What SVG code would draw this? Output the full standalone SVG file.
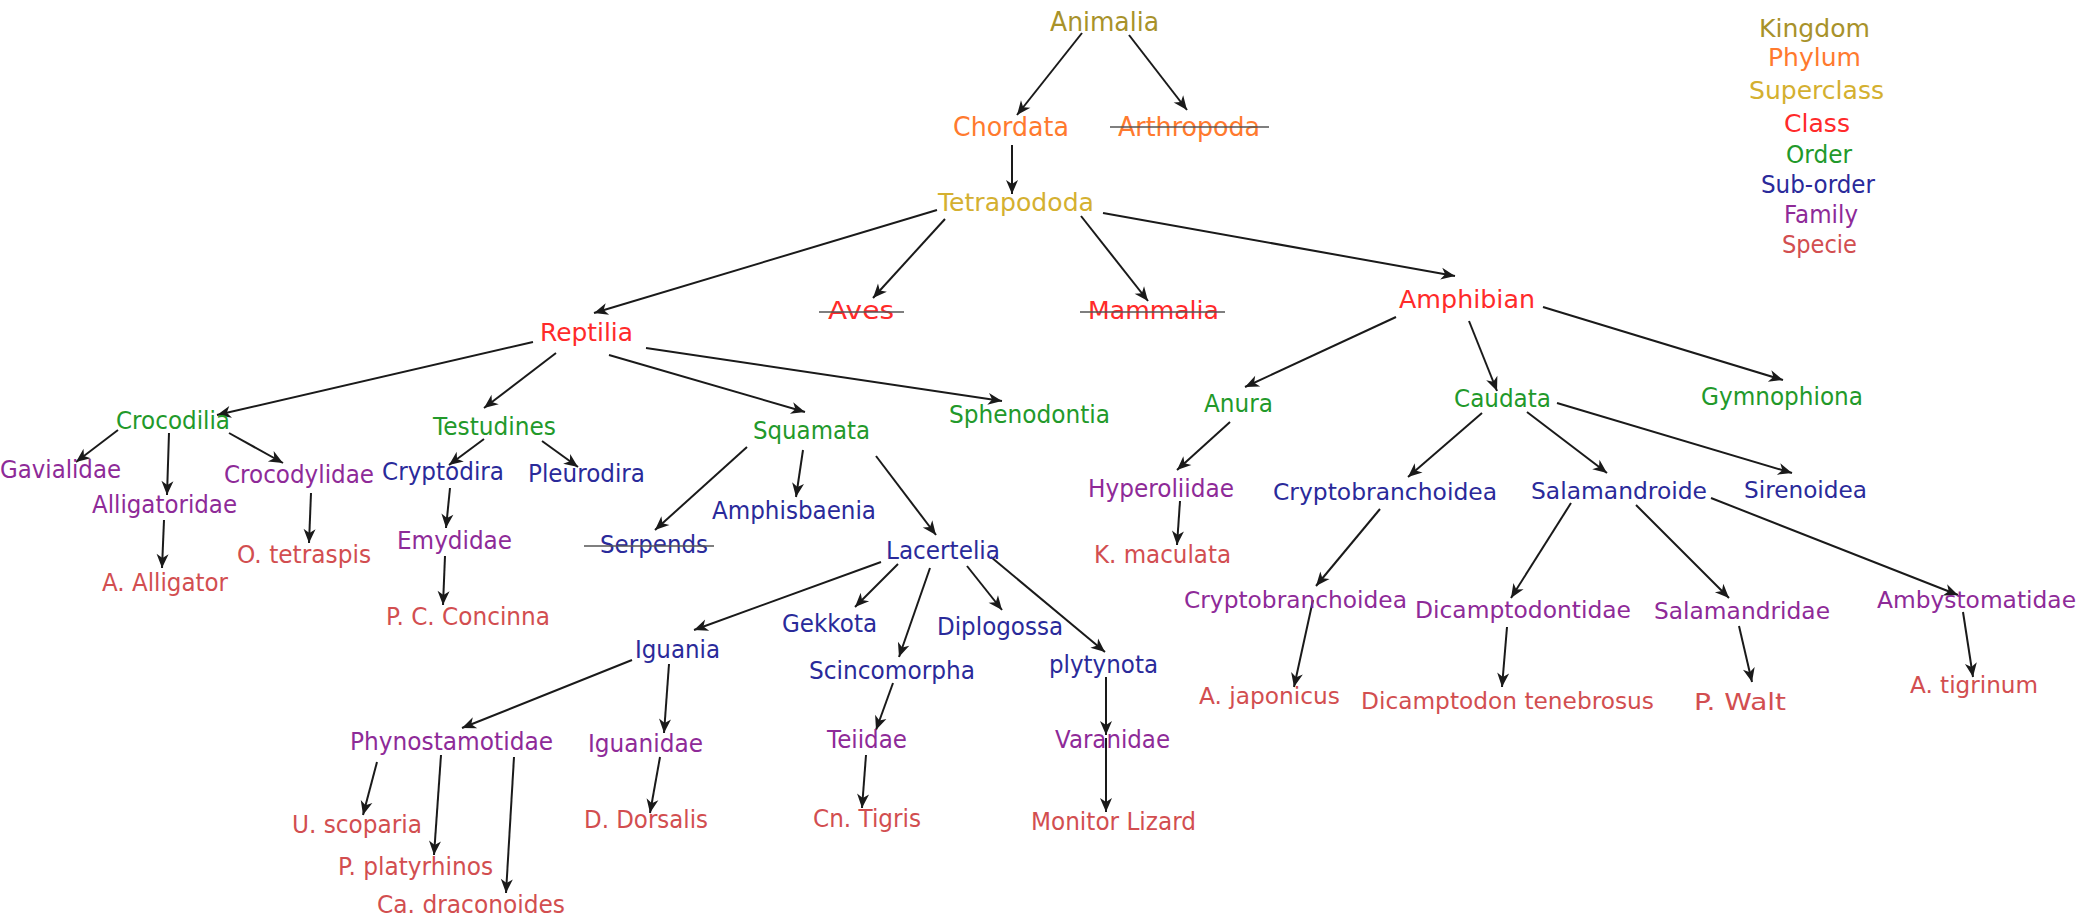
<svg xmlns="http://www.w3.org/2000/svg" width="2091" height="922" viewBox="0 0 2091 922">
<defs>
<marker id="ah" markerUnits="userSpaceOnUse" viewBox="-15 -7 16 14" refX="0" refY="0" markerWidth="16" markerHeight="14" orient="auto">
<path d="M0,0 L-14,-6 L-10,0 L-14,6 Z" fill="#1a1a1a"/>
</marker>
<style>
text{font-family:"DejaVu Sans","Liberation Sans",sans-serif;font-size:24px}
.k{fill:#a8922a}.p{fill:#ff7a2e}.sc{fill:#d4b030}.c{fill:#ff2a2a}.o{fill:#22992a}.so{fill:#2a2a9a}.f{fill:#8e2a98}.s{fill:#d24e50}
.big{font-size:26px}.mid{font-size:25px}.sm{font-size:23px}
.lg{font-size:24px}
#edges line{stroke:#1a1a1a;stroke-width:2;marker-end:url(#ah)}
.strike{stroke:#555;stroke-width:1.5}
</style>
</defs>
<rect width="2091" height="922" fill="#fff"/>
<g id="edges">
<line x1="1082" y1="33" x2="1017" y2="115"/>
<line x1="1129" y1="35" x2="1187" y2="110"/>
<line x1="1012" y1="145" x2="1012" y2="194"/>
<line x1="937" y1="210" x2="594" y2="313"/>
<line x1="945" y1="219" x2="873" y2="298"/>
<line x1="1081" y1="216" x2="1148" y2="301"/>
<line x1="1103" y1="213" x2="1455" y2="276"/>
<line x1="533" y1="342" x2="217" y2="415"/>
<line x1="556" y1="353" x2="484" y2="408"/>
<line x1="609" y1="355" x2="805" y2="412"/>
<line x1="646" y1="348" x2="1002" y2="401"/>
<line x1="118" y1="430" x2="76" y2="462"/>
<line x1="169" y1="433" x2="167" y2="495"/>
<line x1="229" y1="433" x2="283" y2="463"/>
<line x1="164" y1="520" x2="162" y2="568"/>
<line x1="311" y1="493" x2="309" y2="543"/>
<line x1="484" y1="439" x2="449" y2="465"/>
<line x1="542" y1="441" x2="578" y2="467"/>
<line x1="450" y1="488" x2="446" y2="528"/>
<line x1="445" y1="556" x2="443" y2="605"/>
<line x1="747" y1="447" x2="655" y2="530"/>
<line x1="803" y1="450" x2="796" y2="497"/>
<line x1="876" y1="456" x2="936" y2="535"/>
<line x1="881" y1="562" x2="694" y2="630"/>
<line x1="898" y1="564" x2="855" y2="607"/>
<line x1="930" y1="568" x2="899" y2="657"/>
<line x1="967" y1="566" x2="1002" y2="610"/>
<line x1="991" y1="557" x2="1105" y2="652"/>
<line x1="632" y1="660" x2="462" y2="728"/>
<line x1="669" y1="664" x2="664" y2="733"/>
<line x1="377" y1="762" x2="363" y2="815"/>
<line x1="441" y1="755" x2="434" y2="855"/>
<line x1="514" y1="757" x2="506" y2="893"/>
<line x1="660" y1="757" x2="650" y2="813"/>
<line x1="893" y1="683" x2="876" y2="730"/>
<line x1="866" y1="755" x2="862" y2="808"/>
<line x1="1106" y1="677" x2="1106" y2="735"/>
<line x1="1106" y1="738" x2="1106" y2="812"/>
<line x1="1396" y1="317" x2="1245" y2="387"/>
<line x1="1469" y1="321" x2="1497" y2="391"/>
<line x1="1543" y1="307" x2="1783" y2="380"/>
<line x1="1230" y1="422" x2="1177" y2="470"/>
<line x1="1180" y1="501" x2="1177" y2="545"/>
<line x1="1482" y1="413" x2="1408" y2="477"/>
<line x1="1527" y1="412" x2="1607" y2="473"/>
<line x1="1557" y1="403" x2="1792" y2="473"/>
<line x1="1380" y1="509" x2="1316" y2="586"/>
<line x1="1313" y1="600" x2="1294" y2="687"/>
<line x1="1571" y1="503" x2="1511" y2="598"/>
<line x1="1507" y1="627" x2="1502" y2="687"/>
<line x1="1636" y1="505" x2="1729" y2="598"/>
<line x1="1739" y1="626" x2="1752" y2="682"/>
<line x1="1711" y1="498" x2="1958" y2="595"/>
<line x1="1963" y1="612" x2="1973" y2="677"/>
</g>
<g id="legend">
<text class="k lg" x="1759" y="37" textLength="111" lengthAdjust="spacingAndGlyphs">Kingdom</text>
<text class="p lg" x="1768" y="66" textLength="93" lengthAdjust="spacingAndGlyphs">Phylum</text>
<text class="sc lg" x="1749" y="99" textLength="135" lengthAdjust="spacingAndGlyphs">Superclass</text>
<text class="c lg" x="1784" y="132" textLength="66" lengthAdjust="spacingAndGlyphs">Class</text>
<text class="o lg" x="1786" y="163" textLength="66" lengthAdjust="spacingAndGlyphs">Order</text>
<text class="so lg" x="1761" y="193" textLength="114" lengthAdjust="spacingAndGlyphs">Sub-order</text>
<text class="f lg" x="1784" y="223" textLength="74" lengthAdjust="spacingAndGlyphs">Family</text>
<text class="s lg" x="1782" y="253" textLength="75" lengthAdjust="spacingAndGlyphs">Specie</text>
</g>
<g id="n-animalia"><text class="k big" x="1050" y="31" textLength="109" lengthAdjust="spacingAndGlyphs">Animalia</text></g>
<g id="n-chordata"><text class="p big" x="953" y="136" textLength="116" lengthAdjust="spacingAndGlyphs">Chordata</text></g>
<g id="n-arthropoda"><text class="p big" x="1118" y="136" textLength="142" lengthAdjust="spacingAndGlyphs">Arthropoda</text><line class="strike" x1="1110" y1="127" x2="1269" y2="127"/></g>
<g id="n-tetrapododa"><text class="sc mid" x="938" y="211" textLength="156" lengthAdjust="spacingAndGlyphs">Tetrapododa</text></g>
<g id="n-aves"><text class="c mid" x="828" y="319" textLength="66" lengthAdjust="spacingAndGlyphs">Aves</text><line class="strike" x1="819" y1="312" x2="904" y2="312"/></g>
<g id="n-mammalia"><text class="c mid" x="1088" y="319" textLength="131" lengthAdjust="spacingAndGlyphs">Mammalia</text><line class="strike" x1="1080" y1="312" x2="1225" y2="312"/></g>
<g id="n-amphibian"><text class="c mid" x="1399" y="308" textLength="136" lengthAdjust="spacingAndGlyphs">Amphibian</text></g>
<g id="n-reptilia"><text class="c mid" x="540" y="341" textLength="93" lengthAdjust="spacingAndGlyphs">Reptilia</text></g>
<g id="n-crocodilia"><text class="o" x="116" y="429" textLength="114" lengthAdjust="spacingAndGlyphs">Crocodilia</text></g>
<g id="n-testudines"><text class="o" x="433" y="435" textLength="123" lengthAdjust="spacingAndGlyphs">Testudines</text></g>
<g id="n-squamata"><text class="o" x="753" y="439" textLength="117" lengthAdjust="spacingAndGlyphs">Squamata</text></g>
<g id="n-sphenodontia"><text class="o" x="949" y="423" textLength="161" lengthAdjust="spacingAndGlyphs">Sphenodontia</text></g>
<g id="n-anura"><text class="o" x="1204" y="412" textLength="69" lengthAdjust="spacingAndGlyphs">Anura</text></g>
<g id="n-caudata"><text class="o" x="1454" y="407" textLength="97" lengthAdjust="spacingAndGlyphs">Caudata</text></g>
<g id="n-gymnophiona"><text class="o" x="1701" y="405" textLength="162" lengthAdjust="spacingAndGlyphs">Gymnophiona</text></g>
<g id="n-gavialidae"><text class="f" x="0" y="478" textLength="121" lengthAdjust="spacingAndGlyphs">Gavialidae</text></g>
<g id="n-alligatoridae"><text class="f" x="92" y="513" textLength="145" lengthAdjust="spacingAndGlyphs">Alligatoridae</text></g>
<g id="n-crocodylidae"><text class="f" x="224" y="483" textLength="150" lengthAdjust="spacingAndGlyphs">Crocodylidae</text></g>
<g id="n-a-alligator"><text class="s" x="102" y="591" textLength="126" lengthAdjust="spacingAndGlyphs">A. Alligator</text></g>
<g id="n-o-tetraspis"><text class="s" x="237" y="563" textLength="134" lengthAdjust="spacingAndGlyphs">O. tetraspis</text></g>
<g id="n-cryptodira"><text class="so" x="382" y="480" textLength="122" lengthAdjust="spacingAndGlyphs">Cryptodira</text></g>
<g id="n-pleurodira"><text class="so" x="528" y="482" textLength="117" lengthAdjust="spacingAndGlyphs">Pleurodira</text></g>
<g id="n-emydidae"><text class="f" x="397" y="549" textLength="115" lengthAdjust="spacingAndGlyphs">Emydidae</text></g>
<g id="n-pc-concinna"><text class="s" x="386" y="625" textLength="164" lengthAdjust="spacingAndGlyphs">P. C. Concinna</text></g>
<g id="n-serpends"><text class="so" x="600" y="553" textLength="108" lengthAdjust="spacingAndGlyphs">Serpends</text><line class="strike" x1="584" y1="546" x2="714" y2="546"/></g>
<g id="n-amphisbaenia"><text class="so" x="712" y="519" textLength="164" lengthAdjust="spacingAndGlyphs">Amphisbaenia</text></g>
<g id="n-lacertelia"><text class="so" x="886" y="559" textLength="114" lengthAdjust="spacingAndGlyphs">Lacertelia</text></g>
<g id="n-gekkota"><text class="so" x="782" y="632" textLength="95" lengthAdjust="spacingAndGlyphs">Gekkota</text></g>
<g id="n-diplogossa"><text class="so" x="937" y="635" textLength="126" lengthAdjust="spacingAndGlyphs">Diplogossa</text></g>
<g id="n-iguania"><text class="so" x="635" y="658" textLength="85" lengthAdjust="spacingAndGlyphs">Iguania</text></g>
<g id="n-scincomorpha"><text class="so" x="809" y="679" textLength="166" lengthAdjust="spacingAndGlyphs">Scincomorpha</text></g>
<g id="n-plytynota"><text class="so" x="1049" y="673" textLength="109" lengthAdjust="spacingAndGlyphs">plytynota</text></g>
<g id="n-iguanidae"><text class="f" x="588" y="752" textLength="115" lengthAdjust="spacingAndGlyphs">Iguanidae</text></g>
<g id="n-d-dorsalis"><text class="s" x="584" y="828" textLength="124" lengthAdjust="spacingAndGlyphs">D. Dorsalis</text></g>
<g id="n-teiidae"><text class="f" x="827" y="748" textLength="80" lengthAdjust="spacingAndGlyphs">Teiidae</text></g>
<g id="n-cn-tigris"><text class="s" x="813" y="827" textLength="108" lengthAdjust="spacingAndGlyphs">Cn. Tigris</text></g>
<g id="n-varanidae"><text class="f" x="1055" y="748" textLength="115" lengthAdjust="spacingAndGlyphs">Varanidae</text></g>
<g id="n-monitor-lizard"><text class="s" x="1031" y="830" textLength="165" lengthAdjust="spacingAndGlyphs">Monitor Lizard</text></g>
<g id="n-phynostamotidae"><text class="f" x="350" y="750" textLength="203" lengthAdjust="spacingAndGlyphs">Phynostamotidae</text></g>
<g id="n-u-scoparia"><text class="s" x="292" y="833" textLength="130" lengthAdjust="spacingAndGlyphs">U. scoparia</text></g>
<g id="n-p-platyrhinos"><text class="s" x="338" y="875" textLength="155" lengthAdjust="spacingAndGlyphs">P. platyrhinos</text></g>
<g id="n-ca-draconoides"><text class="s" x="377" y="913" textLength="188" lengthAdjust="spacingAndGlyphs">Ca. draconoides</text></g>
<g id="n-hyperoliidae"><text class="f" x="1088" y="497" textLength="146" lengthAdjust="spacingAndGlyphs">Hyperoliidae</text></g>
<g id="n-k-maculata"><text class="s" x="1094" y="563" textLength="137" lengthAdjust="spacingAndGlyphs">K. maculata</text></g>
<g id="n-cryptobranchoidea-so"><text class="so sm" x="1273" y="500" textLength="224" lengthAdjust="spacingAndGlyphs">Cryptobranchoidea</text></g>
<g id="n-salamandroide"><text class="so sm" x="1531" y="499" textLength="176" lengthAdjust="spacingAndGlyphs">Salamandroide</text></g>
<g id="n-sirenoidea"><text class="so sm" x="1744" y="498" textLength="123" lengthAdjust="spacingAndGlyphs">Sirenoidea</text></g>
<g id="n-cryptobranchoidea-f"><text class="f sm" x="1184" y="608" textLength="223" lengthAdjust="spacingAndGlyphs">Cryptobranchoidea</text></g>
<g id="n-dicamptodontidae"><text class="f sm" x="1415" y="618" textLength="216" lengthAdjust="spacingAndGlyphs">Dicamptodontidae</text></g>
<g id="n-salamandridae"><text class="f sm" x="1654" y="619" textLength="176" lengthAdjust="spacingAndGlyphs">Salamandridae</text></g>
<g id="n-ambystomatidae"><text class="f sm" x="1877" y="608" textLength="199" lengthAdjust="spacingAndGlyphs">Ambystomatidae</text></g>
<g id="n-a-japonicus"><text class="s sm" x="1199" y="704" textLength="141" lengthAdjust="spacingAndGlyphs">A. japonicus</text></g>
<g id="n-d-tenebrosus"><text class="s sm" x="1361" y="709" textLength="293" lengthAdjust="spacingAndGlyphs">Dicamptodon tenebrosus</text></g>
<g id="n-p-walt"><text class="s sm" x="1694" y="710" textLength="92" lengthAdjust="spacingAndGlyphs">P.  Walt</text></g>
<g id="n-a-tigrinum"><text class="s sm" x="1910" y="693" textLength="128" lengthAdjust="spacingAndGlyphs">A. tigrinum</text></g>
</svg>
